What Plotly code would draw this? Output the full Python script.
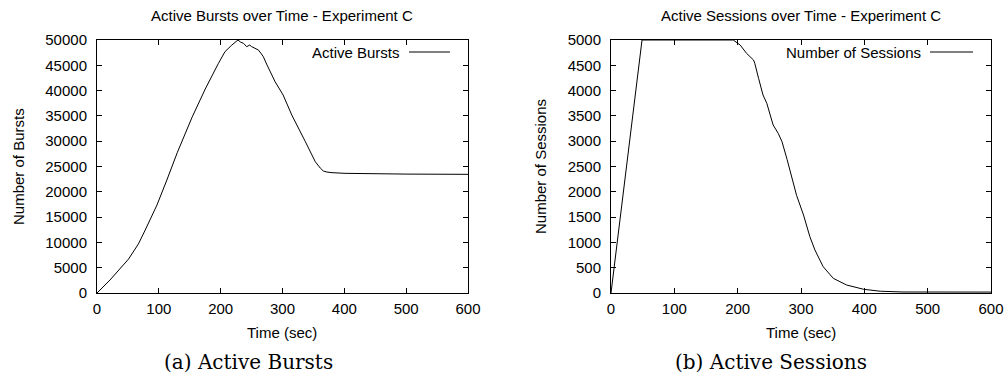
import plotly.graph_objects as go

# Left: Active Bursts
burst_t = [0, 2, 21, 51, 67, 78, 97, 113, 130, 154, 175, 196, 207, 218, 228, 232, 237, 242, 247, 250, 253, 257, 261, 265, 269, 275, 288, 301, 315, 337, 353, 361, 366, 372, 380, 401, 450, 500, 600]
burst_v = [0, 250, 2570, 6700, 9700, 12450, 17390, 22330, 27800, 34800, 40300, 45300, 47700, 49000, 50000, 49600, 49340, 48680, 49000, 48700, 48480, 48300, 48020, 47400, 46700, 45060, 41760, 39130, 35180, 29900, 25950, 24700, 24110, 23900, 23780, 23650, 23550, 23500, 23450]

# Right: Active Sessions
sess_t = [0, 49, 100, 150, 193, 204, 214, 225, 227, 233, 240, 246, 251, 256, 264, 270, 278, 283, 293, 304, 314, 322, 335, 351, 372, 399, 425, 461, 500, 600]
sess_v = [0, 5000, 5000, 5000, 5000, 4900, 4737, 4605, 4540, 4243, 3913, 3750, 3518, 3320, 3156, 2990, 2640, 2420, 1930, 1541, 1113, 850, 520, 290, 158, 73, 35, 20, 18, 18]

x_ticks = [0, 100, 200, 300, 400, 500, 600]
burst_ticks = list(range(0, 50001, 5000))
sess_ticks = list(range(0, 5001, 500))

FONT = "Liberation Sans, Arial, sans-serif"
SERIF = "DejaVu Serif, serif"
FS = 15

fig = go.Figure()
fig.add_trace(go.Scatter(x=burst_t, y=burst_v, mode="lines", name="Active Bursts",
                         line=dict(color="black", width=1), xaxis="x", yaxis="y", showlegend=False))
fig.add_trace(go.Scatter(x=sess_t, y=sess_v, mode="lines", name="Number of Sessions",
                         line=dict(color="black", width=1), xaxis="x2", yaxis="y2", showlegend=False))

ydom = [1 - 293 / 377, 1 - 40 / 377]
common_ax = dict(showgrid=False, zeroline=False, showline=True, linecolor="black", linewidth=1,
                 mirror="allticks", ticks="inside", ticklen=5, tickcolor="black", automargin=False,
                 tickfont=dict(family=FONT, size=FS, color="black"))

fig.update_layout(
    width=1008, height=377,
    margin=dict(l=0, r=0, t=0, b=0),
    paper_bgcolor="white", plot_bgcolor="white",
    xaxis=dict(domain=[97 / 1008, 468 / 1008], range=[0, 600], tickvals=x_ticks,
               ticktext=[str(v) for v in x_ticks], anchor="y", ticklabelstandoff=2, **common_ax),
    yaxis=dict(domain=ydom, range=[0, 50000], tickvals=burst_ticks,
               ticktext=[str(v) for v in burst_ticks], anchor="x", ticklabelstandoff=6, **common_ax),
    xaxis2=dict(domain=[611 / 1008, 991 / 1008], range=[0, 600], tickvals=x_ticks,
                ticktext=[str(v) for v in x_ticks], anchor="y2", ticklabelstandoff=2, **common_ax),
    yaxis2=dict(domain=ydom, range=[0, 5000], tickvals=sess_ticks,
                ticktext=[str(v) for v in sess_ticks], anchor="x2", ticklabelstandoff=6, **common_ax),
)

def px(x):
    return x / 1008

def py(y):
    return 1 - y / 377

ann = []
# titles
ann.append(dict(text="Active Bursts over Time - Experiment C", x=px(282), y=py(16), font=dict(size=FS)))
ann.append(dict(text="Active Sessions over Time - Experiment C", x=px(801), y=py(16), font=dict(size=FS)))
# x titles
ann.append(dict(text="Time (sec)", x=px(282), y=py(332), font=dict(size=FS)))
ann.append(dict(text="Time (sec)", x=px(801), y=py(332), font=dict(size=FS)))
# y titles
ann.append(dict(text="Number of Bursts", x=px(18), y=py(167), textangle=-90, font=dict(size=FS)))
ann.append(dict(text="Number of Sessions", x=px(540), y=py(167), textangle=-90, font=dict(size=FS)))
# captions
ann.append(dict(text="(a) Active Bursts", x=px(248), y=py(362), font=dict(size=20, family=SERIF)))
ann.append(dict(text="(b) Active Sessions", x=px(771), y=py(362), font=dict(size=20, family=SERIF)))
# legends
ann.append(dict(text="Active Bursts", x=px(402), y=py(52), xanchor="right", font=dict(size=FS)))
ann.append(dict(text="Number of Sessions", x=px(923), y=py(52), xanchor="right", font=dict(size=FS)))

for a in ann:
    a.setdefault("xanchor", "center")
    a["yanchor"] = "middle"
    a["xref"] = "paper"
    a["yref"] = "paper"
    a["showarrow"] = False
    f = a["font"]
    f.setdefault("family", FONT)
    f["color"] = "black"
fig.update_layout(annotations=ann)

# legend line samples
fig.add_shape(type="line", xref="paper", yref="paper", x0=px(409), x1=px(450), y0=py(52), y1=py(52),
              line=dict(color="black", width=1))
fig.add_shape(type="line", xref="paper", yref="paper", x0=px(930), x1=px(973), y0=py(52), y1=py(52),
              line=dict(color="black", width=1))

fig.write_html("out.html", config={"displayModeBar": False},
               post_script="document.body.style.margin='0';document.body.style.padding='0';document.body.style.overflow='hidden';")
